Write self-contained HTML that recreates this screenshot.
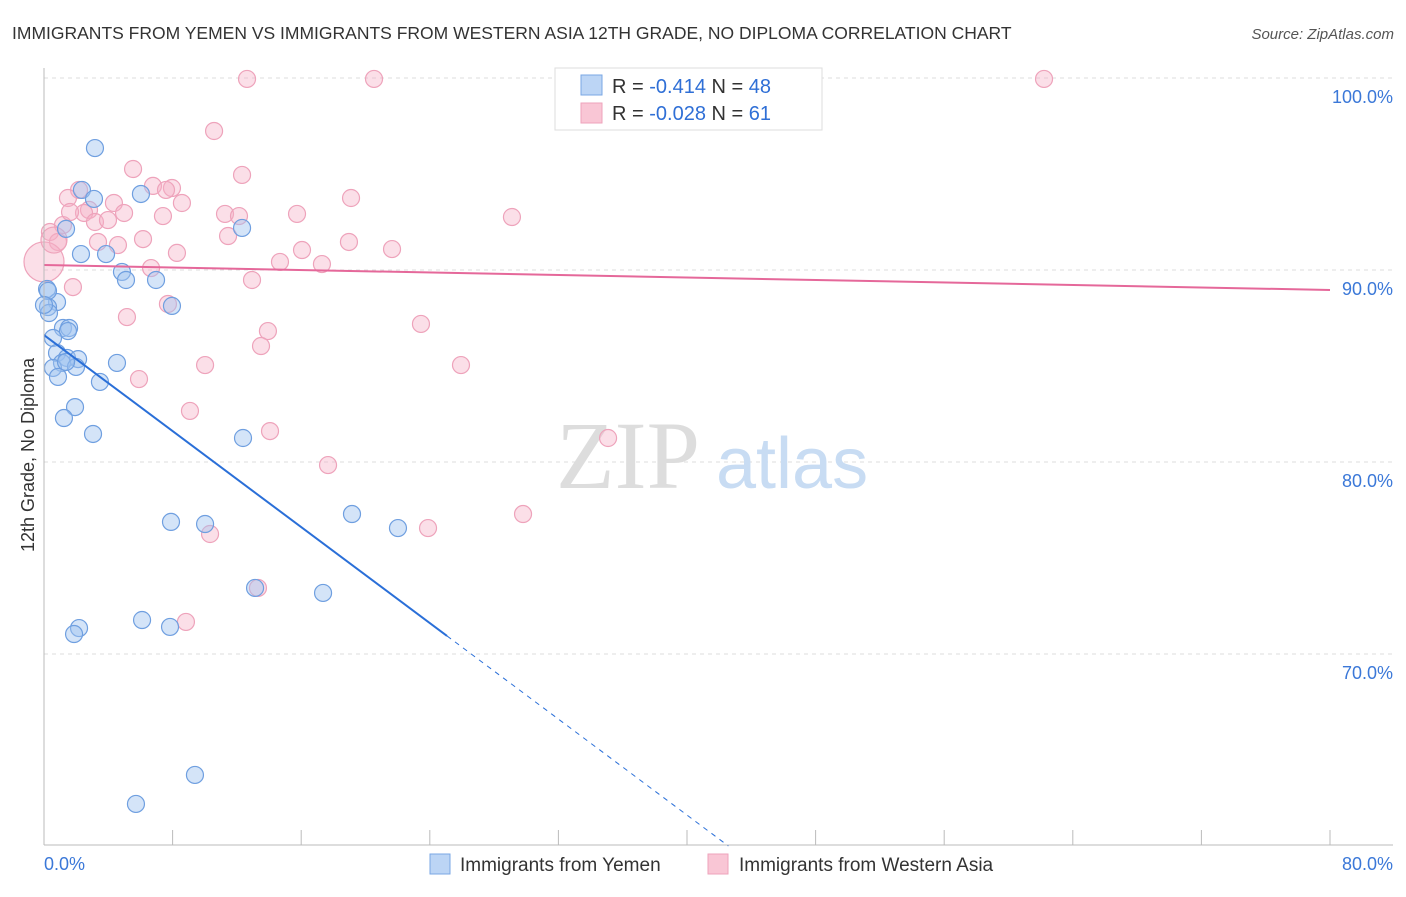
<!DOCTYPE html>
<html><head><meta charset="utf-8"><style>
body{margin:0;background:#fff;font-family:"Liberation Sans",sans-serif}
svg text{font-family:"Liberation Sans",sans-serif}
</style></head><body>
<svg id="chart" width="1406" height="892" xmlns="http://www.w3.org/2000/svg">
<text x="12" y="39" font-size="17.5" fill="#333">IMMIGRANTS FROM YEMEN VS IMMIGRANTS FROM WESTERN ASIA 12TH GRADE, NO DIPLOMA CORRELATION CHART</text>
<text x="1394" y="39" font-size="15" fill="#555" font-style="italic" text-anchor="end">Source: ZipAtlas.com</text>
<g id="grid"></g>
<text x="700" y="488" font-size="96" fill="#ddd" text-anchor="end" font-family="Liberation Serif" style="font-family:'Liberation Serif',serif">ZIP</text>
<text x="716" y="488" font-size="72" fill="#c8dcf3">atlas</text>
<g id="pts"></g>
<g id="lines"></g>
<g id="axes"></g>
<text transform="translate(34,455) rotate(-90)" font-size="18" fill="#333" text-anchor="middle">12th Grade, No Diploma</text>
<g>
<rect x="555" y="68" width="267" height="62" fill="#fff" stroke="#ddd"/>
<rect x="581" y="75" width="21" height="20" fill="#bcd5f5" stroke="#7aa7e4"/>
<rect x="581" y="103" width="21" height="20" fill="#f9c6d5" stroke="#eea3bb"/>
<text x="612" y="93" font-size="20" fill="#333">R = <tspan fill="#2f6fd6">-0.414</tspan>   N = <tspan fill="#2f6fd6">48</tspan></text>
<text x="612" y="120" font-size="20" fill="#333">R = <tspan fill="#2f6fd6">-0.028</tspan>   N =  <tspan fill="#2f6fd6">61</tspan></text>
</g>
<g>
<rect x="430" y="854" width="20" height="20" fill="#bcd5f5" stroke="#7aa7e4"/>
<text x="460" y="871" font-size="19" fill="#333">Immigrants from Yemen</text>
<rect x="708" y="854" width="20" height="20" fill="#f9c6d5" stroke="#eea3bb"/>
<text x="739" y="871" font-size="19" fill="#333">Immigrants from Western Asia</text>
</g>
</svg>
<script>
const blueX=[3.17,2.36,6.03,3.11,1.37,12.32,2.30,3.86,4.85,5.10,6.97,0.19,0.81,0.25,0.31,7.96,1.18,1.56,1.49,0.56,0.81,1.43,2.12,1.12,0.56,1.99,0.87,3.48,4.54,1.93,1.24,3.05,12.38,7.90,10.02,19.16,22.02,13.13,17.36,6.10,2.18,1.87,7.84,9.39,5.72,0.25,0.0,1.37];
const blueY=[96.35,94.17,93.96,93.70,92.14,92.19,90.83,90.83,89.90,89.48,89.48,89.01,88.33,88.07,87.76,88.13,86.98,86.98,86.82,86.46,85.68,85.42,85.36,85.16,84.90,84.95,84.43,84.17,85.16,82.86,82.29,81.46,81.25,76.88,76.77,77.29,76.56,73.44,73.18,71.77,71.35,71.04,71.41,63.70,62.19,88.91,88.18,85.21];
const pinkX=[12.63,20.53,44.17,62.21,10.58,5.54,12.32,6.78,2.18,7.96,1.49,4.35,19.10,8.58,2.80,4.98,2.49,7.40,11.26,12.13,15.74,29.11,3.17,3.98,1.18,0.37,11.45,6.16,3.36,4.60,0.87,18.97,21.65,16.05,8.27,14.68,17.29,6.66,0.0,12.94,1.80,7.71,5.16,13.93,23.45,13.50,10.02,25.94,5.91,9.08,14.06,35.09,17.67,10.33,23.89,29.80,13.31,8.83,0.62,1.62,7.59];
const pinkY=[99.95,99.95,99.95,99.95,97.24,95.26,94.95,94.38,94.17,94.27,93.75,93.49,93.75,93.49,93.13,92.97,92.97,92.81,92.92,92.81,92.92,92.76,92.50,92.60,92.34,91.98,91.77,91.61,91.46,91.30,91.46,91.46,91.09,91.04,90.89,90.42,90.31,90.10,90.42,89.48,89.11,88.23,87.55,86.82,87.19,86.04,85.05,85.05,84.32,82.66,81.61,81.25,79.84,76.25,76.56,77.29,73.44,71.67,91.56,93.02,94.17];
const pinkR=[];pinkR[38]=20;pinkR[58]=13;
const yTicks=[100,90,80,70];
const yTickLabels=["100.0%","90.0%","80.0%","70.0%"];
const blueTrend=[86.61,-0.625,25.07]; // intercept, slope, solid-end x
const pinkTrend=[90.26,-0.01625];
const NS="http://www.w3.org/2000/svg";
const X=v=>44+v*16.075, Y=v=>78+(100-v)*19.2;
function mk(t,a,p){const e=document.createElementNS(NS,t);for(const k in a)e.setAttribute(k,a[k]);p.appendChild(e);return e;}
const grid=document.getElementById('grid'),axes=document.getElementById('axes'),pts=document.getElementById('pts'),lines=document.getElementById('lines');
yTicks.forEach((t,i)=>{
 const l=mk('line',{x1:44,x2:1393,y1:Y(t),y2:Y(t),stroke:'#ddd','stroke-dasharray':'4,4'},grid);
 
 
 const tx=mk('text',{x:1393,y:Y(t)+25,'font-size':18,fill:'#3b78d8','text-anchor':'end'},axes);
 tx.textContent=yTickLabels[i];
 
 
});
mk('line',{x1:44,x2:44,y1:68,y2:845,stroke:'#bbb'},axes);
mk('line',{x1:44,x2:1393,y1:845,y2:845,stroke:'#bbb'},axes);
for(let i=0;i<=10;i++){const t=mk('line',{x1:X(i*8),x2:X(i*8),y1:830,y2:845,stroke:'#bbb'},axes);
 
 }
const x0=mk('text',{x:44,y:870,'font-size':18,fill:'#3b78d8'},axes);x0.textContent='0.0%';


const x1=mk('text',{x:1393,y:870,'font-size':18,fill:'#3b78d8','text-anchor':'end'},axes);x1.textContent='80.0%';


pinkX.forEach((v,i)=>{const c=mk('circle',{cx:X(v),cy:Y(pinkY[i]),r:pinkR[i]||8.5,fill:'rgba(246,175,198,0.4)',stroke:'#eea3bb','stroke-width':1.2},pts);
 
 });
blueX.forEach((v,i)=>{const c=mk('circle',{cx:X(v),cy:Y(blueY[i]),r:8.5,fill:'rgba(160,196,240,0.45)',stroke:'#6f9fe0','stroke-width':1.2},pts);
 
 });
const bEnd=(60-blueTrend[0])/blueTrend[1];
const bl=mk('line',{x1:X(0),y1:Y(blueTrend[0]),x2:X(blueTrend[2]),y2:Y(blueTrend[0]+blueTrend[1]*blueTrend[2]),stroke:'#2a6fd8','stroke-width':2},lines);


const bd=mk('line',{x1:X(blueTrend[2]),y1:Y(blueTrend[0]+blueTrend[1]*blueTrend[2]),x2:X(bEnd),y2:Y(60),stroke:'#2a6fd8','stroke-width':1,'stroke-dasharray':'5,5'},lines);


const pl=mk('line',{x1:X(0),y1:Y(pinkTrend[0]),x2:X(80),y2:Y(pinkTrend[0]+pinkTrend[1]*80),stroke:'#e5689a','stroke-width':2},lines);


</script>
</body></html>
